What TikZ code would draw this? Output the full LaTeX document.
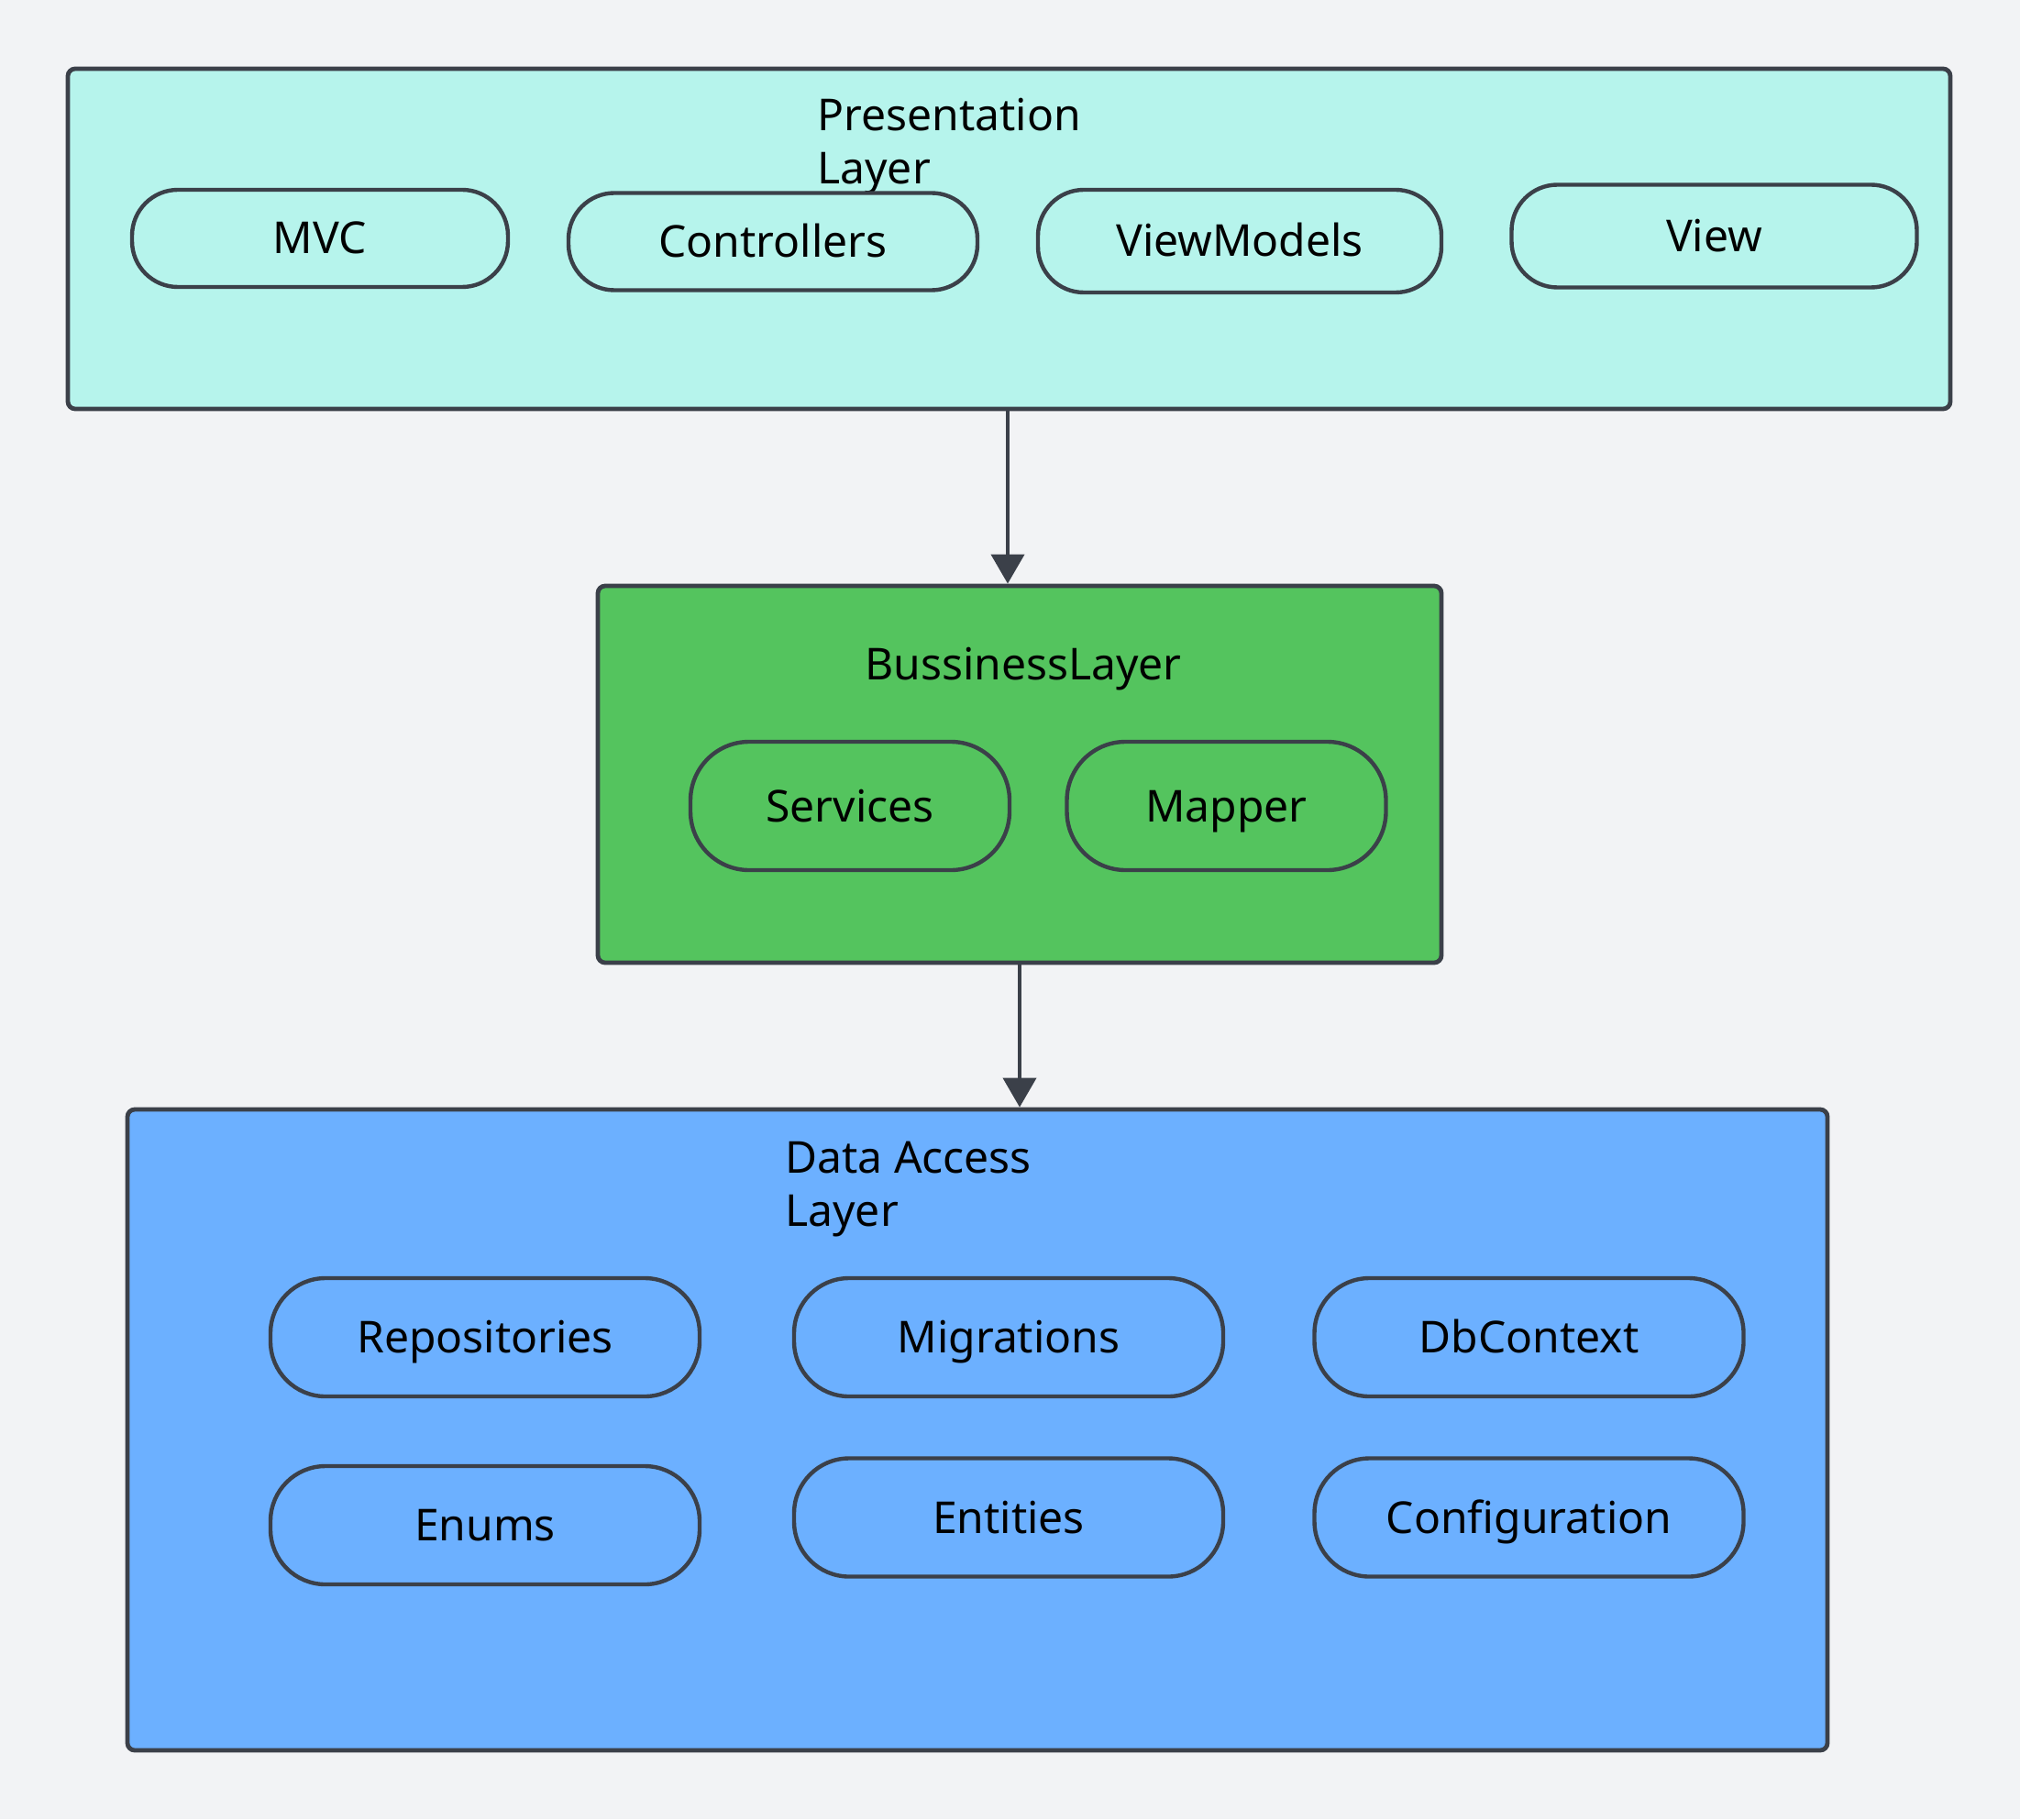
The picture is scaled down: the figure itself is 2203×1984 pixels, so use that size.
\documentclass[tikz,border=0pt]{standalone}
\usepackage{fontspec}
\setmainfont{Noto Sans}
\usetikzlibrary{arrows.meta,fit}
\definecolor{bgc}{HTML}{F2F3F5}
\definecolor{strokec}{HTML}{3B4049}
\definecolor{presc}{HTML}{B6F4EC}
\definecolor{busc}{HTML}{54C45E}
\definecolor{datac}{HTML}{6CB0FF}
\begin{document}
\begin{tikzpicture}[x=0.5pt,y=-0.5pt,
  layerbox/.style={draw=strokec, line width=2.4pt, rounded corners=4pt, inner sep=0pt},
  pill/.style={draw=strokec, line width=2.2pt, inner sep=0pt,
    font=\fontsize{24}{29}\selectfont, text height=17pt, text depth=0pt},
  toppill/.style={pill, fill=presc, rounded corners=25pt},
  midpill/.style={pill, fill=busc, rounded corners=32pt, minimum width=174pt, minimum height=70pt},
  datapill/.style={pill, fill=datac, rounded corners=30pt, minimum width=234pt, minimum height=64.5pt},
  title/.style={inner sep=0pt, font=\fontsize{24}{29}\selectfont},
  arr/.style={draw=strokec, line width=2pt, -{Triangle[length=16pt,width=18pt]}}]
\fill[bgc] (0,0) rectangle (2203,1984);
\useasboundingbox (0,0) rectangle (2203,1984);

% layers
\node[layerbox, fill=presc, fit={(74,75) (2127,446)}] (pres) {};
\node[layerbox, fill=busc, fit={(652,639) (1572,1050)}] (bus) {};
\node[layerbox, fill=datac, fit={(139,1210) (1993,1909)}] (dal) {};

% titles
\node[title, anchor=base west, align=left] (prestitle) at (891,201) {Presentation\\Layer};
\node[title, anchor=base] (bustitle) at (1116,741) {BussinessLayer};
\node[title, anchor=base west, align=left] (daltitle) at (856,1337) {Data Access\\Layer};

% presentation pills
\node[toppill, minimum width=205pt, minimum height=53pt] (mvc) at (349,260) {MVC};
\node[toppill, minimum width=223pt, minimum height=53pt] (ctrl) at (843,263.5) {Controllers};
\node[toppill, minimum width=220pt, minimum height=56pt] (vm) at (1352,263) {ViewModels};
\node[toppill, minimum width=221pt, minimum height=56pt] (view) at (1869.5,257.5) {View};

% business pills
\node[midpill] (svc) at (927,879) {Services};
\node[midpill] (map) at (1337.5,879) {Mapper};

% data pills
\node[datapill] (repo) at (529,1458.5) {Repositories};
\node[datapill] (mig) at (1100,1458.5) {Migrations};
\node[datapill] (dbc) at (1667.5,1458.5) {DbContext};
\node[datapill] (enums) at (529,1663.5) {Enums};
\node[datapill] (ent) at (1100,1655) {Entities};
\node[datapill] (conf) at (1667.5,1655) {Configuration};

% connectors
\coordinate (a1) at (1099,446);
\draw[arr] (a1) -- (a1 |- bus.north);
\draw[arr] (bus.south) -- (bus.south |- dal.north);
\end{tikzpicture}
\end{document}
